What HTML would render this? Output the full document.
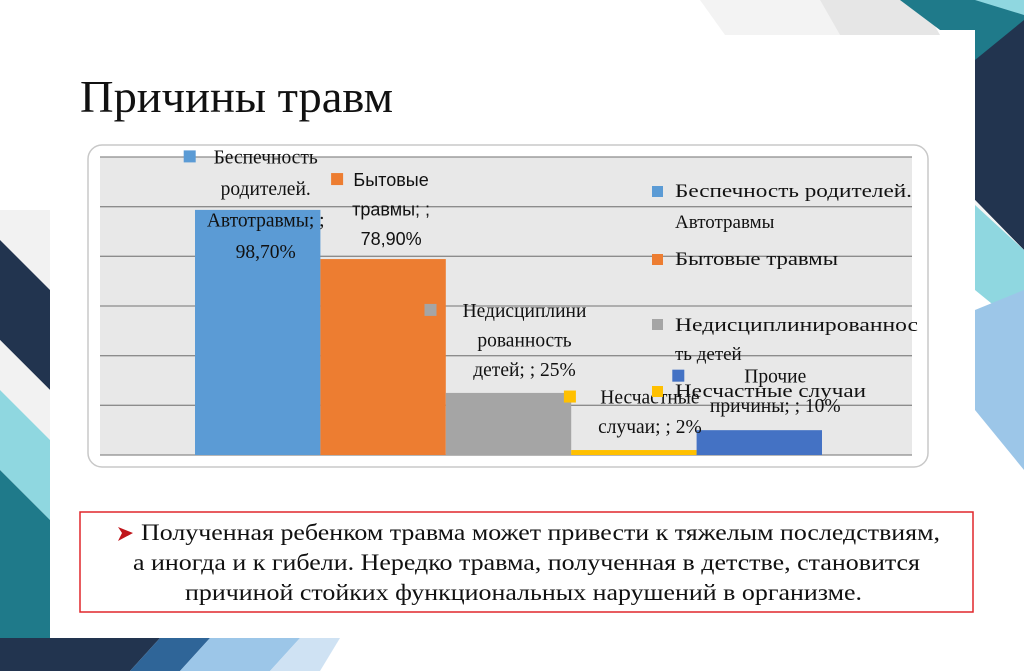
<!DOCTYPE html>
<html><head><meta charset="utf-8"><style>
html,body{margin:0;padding:0;width:1024px;height:671px;overflow:hidden;background:#fff}
svg{display:block}
text{font-family:"Liberation Serif","Noto Serif CJK SC",serif;fill:#111}
.sans{font-family:"Liberation Sans","Noto Sans CJK SC",sans-serif}
</style></head><body>
<svg id="s" width="1024" height="671" viewBox="0 0 1024 671">
<g>
  <rect x="0" y="0" width="1024" height="671" fill="#ffffff"/>
  <polygon points="700,0 820,0 840,35 725,35" fill="#f3f3f3"/>
  <polygon points="820,0 920,0 940,35 840,35" fill="#e6e6e6"/>
  <!-- right side -->
  <polygon points="900,0 1024,0 1024,40 975,90 975,30 940,30" fill="#1f7a8a"/>
  <polygon points="975,0 1024,0 1024,15" fill="#8fd7e0"/>
  <polygon points="975,60 1024,20 1024,250 975,200" fill="#22344f"/>
  <polygon points="975,200 1024,250 1024,290 975,240" fill="#f4f4f4"/>
  <polygon points="975,205 1024,250 1024,330 975,290" fill="#8fd7e0"/>
  <polygon points="975,310 1024,290 1024,470 975,410" fill="#9cc6e8"/>
  <!-- left side -->
  <polygon points="0,210 50,210 50,290 0,240" fill="#f2f2f2"/>
  <polygon points="0,240 50,290 50,390 0,340" fill="#22344f"/>
  <polygon points="0,340 50,390 50,440 0,390" fill="#f2f2f2"/>
  <polygon points="0,390 50,440 50,520 0,470" fill="#8fd7e0"/>
  <polygon points="0,470 50,520 50,638 0,638" fill="#1f7a8a"/>
  <!-- bottom -->
  <polygon points="0,638 160,638 130,671 0,671" fill="#22344f"/>
  <polygon points="160,638 210,638 180,671 130,671" fill="#2f6598"/>
  <polygon points="210,638 300,638 270,671 180,671" fill="#9cc6e8"/>
  <polygon points="300,638 340,638 320,671 270,671" fill="#cfe2f3"/>
</g>
<rect x="50" y="35" width="925" height="603" fill="#fff"/>
<text x="80" y="112" font-size="46" textLength="313" lengthAdjust="spacingAndGlyphs">Причины травм</text>

<rect x="88" y="145" width="840" height="322" rx="14" fill="#fff" stroke="#c8c8c8" stroke-width="1.5"/>
<rect x="100" y="157" width="812" height="298" fill="#e8e8e8"/>
<g id="grid"></g>
<g id="bars"></g>
<g id="labels"></g>

<g font-size="19">
  <rect x="652" y="186" width="11" height="11" fill="#5b9bd5"/>
  <text x="675" y="197" textLength="237" lengthAdjust="spacingAndGlyphs">Беспечность родителей.</text>
  <text x="675" y="228">Автотравмы</text>
  <rect x="652" y="254" width="11" height="11" fill="#ed7d31"/>
  <text x="675" y="265" textLength="163" lengthAdjust="spacingAndGlyphs">Бытовые травмы</text>
  <rect x="652" y="319" width="11" height="11" fill="#a5a5a5"/>
  <text x="675" y="331" textLength="243" lengthAdjust="spacingAndGlyphs">Недисциплинированнос</text>
  <text x="675" y="360">ть детей</text>
  <rect x="652" y="386" width="11" height="11" fill="#ffc000"/>
  <text x="675" y="397" textLength="191" lengthAdjust="spacingAndGlyphs">Несчастные случаи</text>
</g>

<rect x="80" y="512" width="893" height="100" fill="none" stroke="#e0262b" stroke-width="1.5"/>
<g font-size="23">
  <polygon points="118,527 133,533 118,541 122,533" fill="#c0151b"/>
  <text x="141" y="540" textLength="799" lengthAdjust="spacingAndGlyphs">Полученная ребенком травма может привести к тяжелым последствиям,</text>
  <text x="133" y="570" textLength="787" lengthAdjust="spacingAndGlyphs">а иногда и к гибели. Нередко травма, полученная в детстве, становится</text>
  <text x="185" y="600" textLength="677" lengthAdjust="spacingAndGlyphs">причиной стойких функциональных нарушений в организме.</text>
</g>
</svg>
<script>
const categories = ["Беспечность родителей. Автотравмы", "Бытовые травмы", "Недисциплинированность детей", "Несчастные случаи", "Прочие причины"];
const values = [98.7, 78.9, 25, 2, 10];
const valueLabels = ["98,70%", "78,90%", "25%", "2%", "10%"];
const yTicks = [0, 20, 40, 60, 80, 100, 120];
const colors = ["#5b9bd5", "#ed7d31", "#a5a5a5", "#ffc000", "#4472c4"];

const NS = "http://www.w3.org/2000/svg";
const plotX0 = 195, barW = 125.4, yBase = 455, yTop = 157, yMax = 120;
function yScale(v){ return yBase - (v / yMax) * (yBase - yTop); }
function xScale(i){ return plotX0 + i * barW; }
function mk(tag, attrs, parent){ const e = document.createElementNS(NS, tag); for (const k in attrs) e.setAttribute(k, attrs[k]); parent.appendChild(e); return e; }

const grid = document.getElementById('grid');
yTicks.forEach(t => {
  const l = mk('line', {x1:100, x2:912, y1:yScale(t), y2:yScale(t), stroke:'#8c8c8c', 'stroke-width':1.3}, grid);
  
  
});

const bars = document.getElementById('bars');
values.forEach((v, i) => {
  const r = mk('rect', {x:xScale(i), y:yScale(v), width:barW, height:yBase - yScale(v), fill:colors[i]}, bars);
  
  
});

const layouts = [
  {lines:["Беспечность","родителей.","Автотравмы; ;",""], off:48, dx:8, mx:-82, sans:false},
  {lines:["Бытовые","травмы; ;",""], off:-14, dx:8, mx:-60, sans:true},
  {lines:["Недисциплини","рованность","детей; ; "], off:-17, dx:16, mx:-100, sans:false},
  {lines:["Несчастные","случаи; ; "], off:-17, dx:16, mx:-86, sans:false},
  {lines:["Прочие","причины; ; "], off:-18, dx:16, mx:-103, sans:false}
];
const labels = document.getElementById('labels');
values.forEach((v, i) => {
  const L = layouts[i];
  const n = L.lines.length;
  const lh = i === 0 ? 31.5 : 29.5;
  const cx = xScale(i) + barW / 2 + L.dx;
  const lastY = yScale(v) + L.off;
  L.lines.forEach((ln, j) => {
    let txt = ln;
    if (j === n - 1) txt = ln + valueLabels[i];
    const t = mk('text', {x:cx, y:lastY - (n - 1 - j) * lh, 'font-size':(L.sans?18:19.5), 'text-anchor':'middle'}, labels);
    if (L.sans) t.setAttribute('class', 'sans');
    t.textContent = txt;
    
    
  });
  const firstY = lastY - (n - 1) * lh;
  const m = mk('rect', {x:cx + L.mx, y:firstY - 13, width:12, height:12, fill:colors[i]}, labels);
  
  
});
</script>
</body></html>
